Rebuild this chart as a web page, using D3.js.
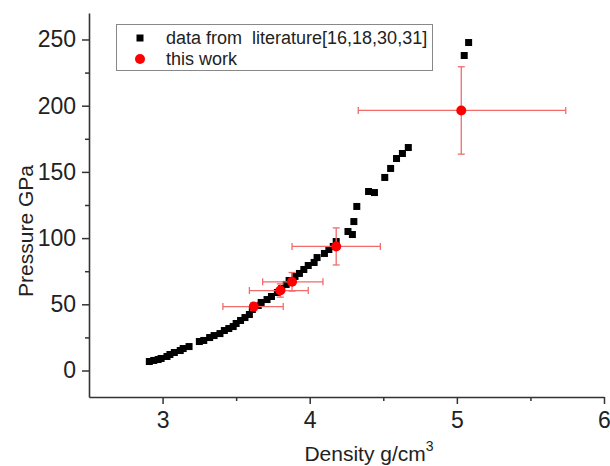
<!DOCTYPE html>
<html>
<head>
<meta charset="utf-8">
<script src="https://cdn.jsdelivr.net/npm/d3@7"></script>
<style>
  body { margin: 0; background: #fff; }
  text { font-family: Arial, "Liberation Sans", sans-serif; fill: #222; }
</style>
</head>
<body>
<script>
  // literature data: density (g/cm3) and pressure (GPa)
  const litDensity = [2.91, 2.94, 2.97, 2.99, 3.03, 3.05, 3.08, 3.12, 3.14, 3.18,
    3.25, 3.28, 3.32, 3.35, 3.39, 3.42, 3.45, 3.48, 3.50, 3.53, 3.56, 3.59,
    3.61, 3.65, 3.67, 3.71, 3.74, 3.78, 3.81, 3.84, 3.86, 3.90, 3.93, 3.96,
    3.99, 4.03, 4.05, 4.10, 4.13, 4.16, 4.18, 4.26, 4.29, 4.30, 4.32, 4.40,
    4.44, 4.51, 4.55, 4.59, 4.63, 4.67, 5.05, 5.08];
  const litPressure = [6.8, 7.6, 8.3, 9.1, 10.6, 12.1, 13.6, 15.1, 16.6, 18.1,
    21.9, 22.7, 24.9, 26.4, 27.9, 30.2, 31.7, 33.2, 35.5, 37.8, 40.0, 42.3,
    46.1, 49.1, 51.4, 53.6, 55.9, 58.9, 61.9, 65.0, 68.0, 71.0, 73.3, 76.3,
    79.3, 81.6, 85.3, 88.4, 91.4, 93.7, 97.4, 105.0, 102.7, 112.5, 123.9, 135.2,
    134.4, 145.8, 152.6, 160.1, 163.9, 168.4, 237.9, 247.7];

  // this work, with error bars
  const workDensity = [3.62, 3.80, 3.88, 4.18, 5.03];
  const workPressure = [48.3, 60.4, 67.0, 93.7, 196.4];
  const workDensityLo = [3.41, 3.59, 3.68, 3.88, 4.33];
  const workDensityHi = [3.82, 3.99, 4.09, 4.48, 5.74];
  const workPressureErr = [3, 5, 7, 14, 33];

  const yMajor = [0, 50, 100, 150, 200, 250];
  const yMinor = [25, 75, 125, 175, 225];
  const xMajor = [3, 4, 5, 6];
  const xMinor = [3.5, 4.5, 5.5];

  const legendLabels = ['data from  literature[16,18,30,31]', 'this work'];

  const width = 610, height = 466;
  const errColor = '#f26b6b';

  let svg = d3.select('body').append('svg')
    .attr('width', width)
    .attr('height', height);

  let xScale = d3.scaleLinear().domain([2.5, 6]).range([89, 604]);
  let yScale = d3.scaleLinear().domain([-20, 270]).range([397, 13]);

  // minor ticks
  svg.append('g')
    .attr('transform', 'translate(89, 0)')
    .call(d3.axisLeft(yScale).tickValues(yMinor).tickSize(4).tickFormat(''))
    .call(g => g.select('.domain').remove());
  svg.append('g')
    .attr('transform', 'translate(0, 397)')
    .call(d3.axisBottom(xScale).tickValues(xMinor).tickSize(4).tickFormat(''))
    .call(g => g.select('.domain').remove());

  // y axis
  svg.append('g')
    .attr('transform', 'translate(89, 0)')
    .call(d3.axisLeft(yScale).tickValues(yMajor).tickSize(7).tickSizeOuter(0).tickPadding(6));

  // x axis
  svg.append('g')
    .attr('transform', 'translate(0, 397)')
    .call(d3.axisBottom(xScale).tickValues(xMajor).tickSize(7).tickSizeOuter(0)
      .tickPadding(8).tickFormat(d3.format('d')));

  svg.selectAll('.tick line').attr('stroke', '#333').attr('stroke-width', 1.5);
  svg.selectAll('.domain').attr('stroke', '#333').attr('stroke-width', 1.6);
  svg.selectAll('.tick text')
    .style('font-size', '23px')
    .style('font-family', 'Arial, "Liberation Sans", sans-serif')
    .attr('fill', '#222');

  // axis labels
  svg.append('text')
    .attr('transform', 'translate(33, 231)rotate(-90)')
    .attr('text-anchor', 'middle')
    .style('font-size', '21px')
    .text('Pressure GPa');

  let xl = svg.append('text')
    .attr('x', 369)
    .attr('y', 461)
    .attr('text-anchor', 'middle')
    .style('font-size', '21px');
  xl.append('tspan').text('Density g/cm');
  xl.append('tspan').attr('dy', -10).style('font-size', '14px').text('3');

  // literature squares
  const sq = 7;
  svg.selectAll('.lit')
    .data(litDensity)
    .enter()
    .append('rect')
      .attr('class', 'lit')
      .attr('x', (d) => xScale(d) - sq / 2)
      .attr('y', (d, i) => yScale(litPressure[i]) - sq / 2)
      .attr('width', sq)
      .attr('height', sq)
      .attr('fill', '#000');

  // error bars for this work
  let err = svg.append('g')
    .attr('stroke', errColor)
    .attr('stroke-width', 1.3)
    .attr('fill', 'none');
  const cap = 3.5;
  workDensity.forEach((d, i) => {
    let cx = xScale(d), cy = yScale(workPressure[i]);
    let x0 = xScale(workDensityLo[i]), x1 = xScale(workDensityHi[i]);
    let y0 = yScale(workPressure[i] - workPressureErr[i]);
    let y1 = yScale(workPressure[i] + workPressureErr[i]);
    err.append('line').attr('x1', x0).attr('x2', x1).attr('y1', cy).attr('y2', cy);
    err.append('line').attr('x1', x0).attr('x2', x0).attr('y1', cy - cap).attr('y2', cy + cap);
    err.append('line').attr('x1', x1).attr('x2', x1).attr('y1', cy - cap).attr('y2', cy + cap);
    err.append('line').attr('x1', cx).attr('x2', cx).attr('y1', y0).attr('y2', y1);
    err.append('line').attr('x1', cx - cap).attr('x2', cx + cap).attr('y1', y0).attr('y2', y0);
    err.append('line').attr('x1', cx - cap).attr('x2', cx + cap).attr('y1', y1).attr('y2', y1);
  });

  // this work points
  svg.selectAll('.work')
    .data(workDensity)
    .enter()
    .append('circle')
      .attr('class', 'work')
      .attr('cx', (d) => xScale(d))
      .attr('cy', (d, i) => yScale(workPressure[i]))
      .attr('r', 5)
      .attr('fill', '#ff0000');

  // legend
  svg.append('rect')
    .attr('x', 116.5)
    .attr('y', 24.5)
    .attr('width', 316)
    .attr('height', 46)
    .attr('fill', '#fff')
    .attr('stroke', '#888')
    .attr('stroke-width', 1);
  svg.append('rect')
    .attr('x', 140 - sq / 2)
    .attr('y', 38 - sq / 2)
    .attr('width', sq)
    .attr('height', sq)
    .attr('fill', '#000');
  svg.append('circle')
    .attr('cx', 140)
    .attr('cy', 59)
    .attr('r', 5)
    .attr('fill', '#ff0000');
  svg.selectAll('.legText')
    .data(legendLabels)
    .enter()
    .append('text')
      .attr('class', 'legText')
      .attr('x', 166)
      .attr('y', (d, i) => 44 + i * 21)
      .style('font-size', '18px')
      .style('white-space', 'pre')
      .text((d) => d);
</script>
</body>
</html>
